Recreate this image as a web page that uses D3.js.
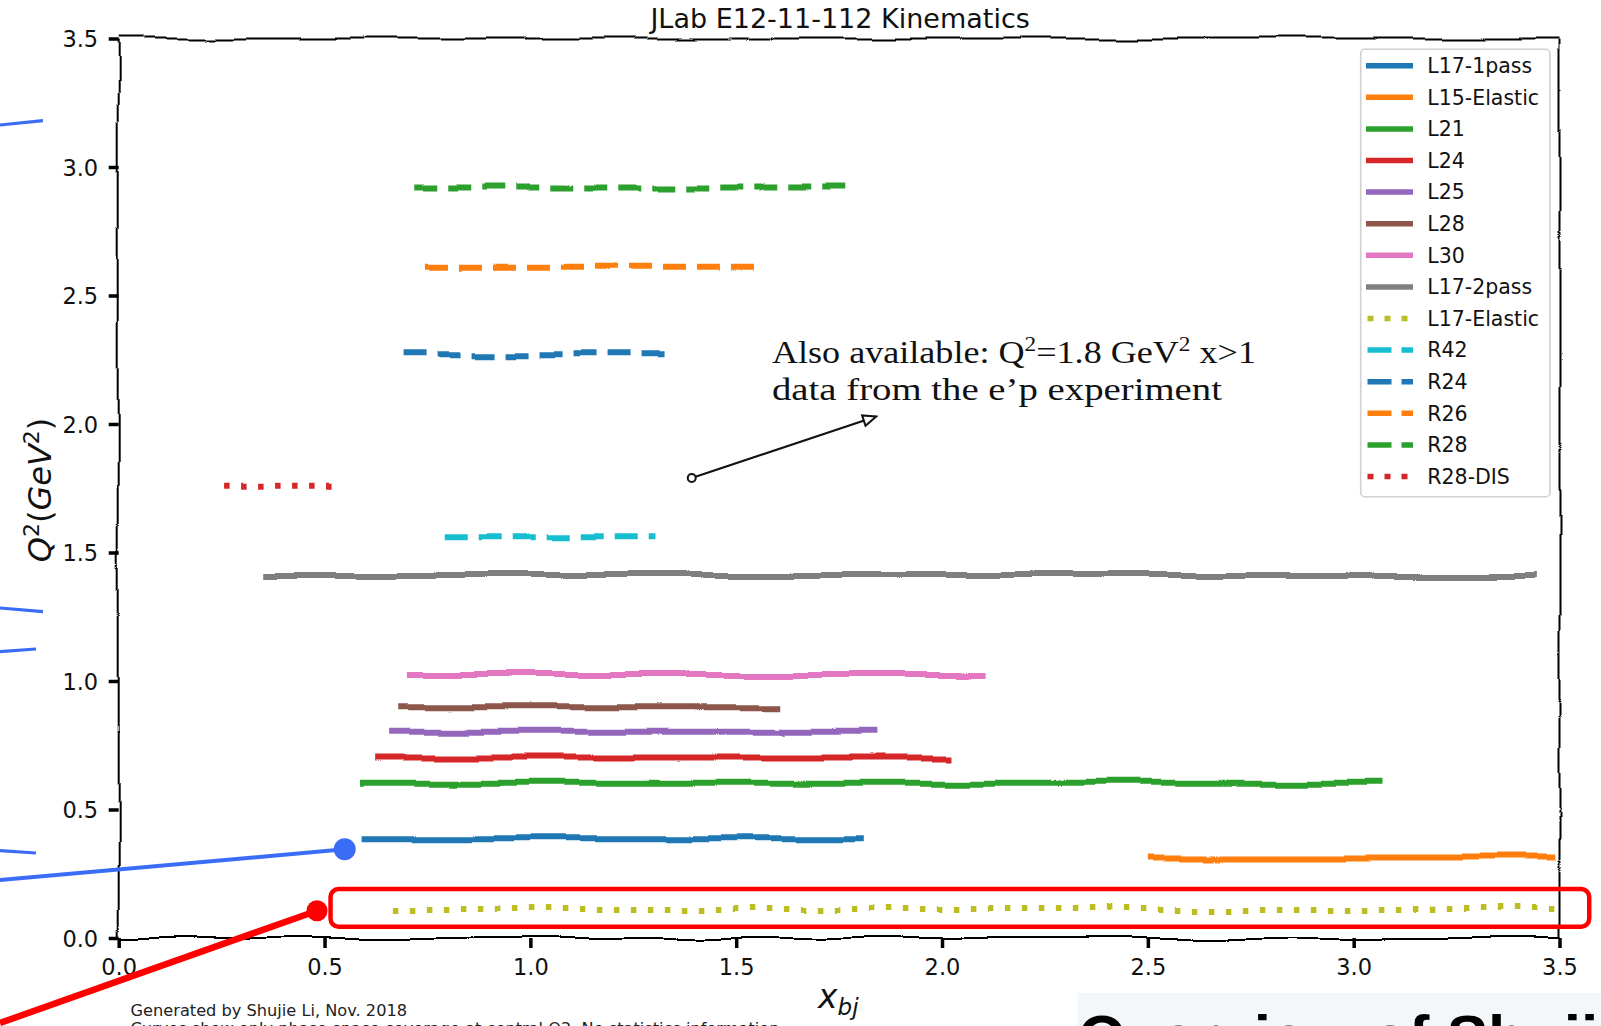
<!DOCTYPE html>
<html><head><meta charset="utf-8">
<script src="https://cdn.jsdelivr.net/npm/d3@7"></script>
<style>html,body{margin:0;padding:0;background:#fff;overflow:hidden}</style>
</head><body><svg id="c" width="1601" height="1026"></svg>
<script>
// ---------------- data ----------------
const seriesNames = ["L17-1pass","L15-Elastic","L21","L24","L25","L28","L30","L17-2pass","L17-Elastic","R42","R24","R26","R28","R28-DIS"];
const xStart   = [0.590, 2.500, 0.586, 0.623, 0.657, 0.679, 0.700, 0.351, 0.666, 0.792, 0.692, 0.744, 0.718, 0.256];
const xEnd     = [1.810, 3.490, 3.070, 2.023, 1.843, 1.607, 2.106, 3.445, 3.490, 1.304, 1.337, 1.548, 1.772, 0.520];
const q2Values = [0.388, 0.313, 0.604, 0.702, 0.803, 0.898, 1.023, 1.412, 0.113, 1.559, 2.271, 2.612, 2.920, 1.756];
const seriesColors = ["#1f77b4","#ff7f0e","#2ca02c","#d62728","#9467bd","#8c564b","#e377c2","#7f7f7f","#bcbd22","#17becf","#1f77b4","#ff7f0e","#2ca02c","#d62728"];
const seriesStyles = ["solid","solid","solid","solid","solid","solid","solid","solid","dotted","dashed","dashed","dashed","dashed","dotted"];
const xTicks = [0, 0.5, 1, 1.5, 2, 2.5, 3, 3.5];
const yTicks = [0, 0.5, 1, 1.5, 2, 2.5, 3, 3.5];
const xTickLabels = ["0.0","0.5","1.0","1.5","2.0","2.5","3.0","3.5"];
const yTickLabels = ["0.0","0.5","1.0","1.5","2.0","2.5","3.0","3.5"];
const titleText = "JLab E12-11-112 Kinematics";
const footerLines = ["Generated by Shujie Li, Nov. 2018","Curves show only phase space coverage at central Q2. No statistics information."];
// annotation (data units)
const noteArrowFrom = [1.392, 1.790];
const noteArrowTo   = [1.840, 2.029];
const noteTextAt    = [1.587, 2.237, 2.093];
// slide overlay marks (data units)
const blueDot = [0.549, 0.345], blueFrom = [-0.2884, 0.2257];
const redDot  = [0.4818, 0.1062], redFrom = [-0.2884, -0.3307];
const redBox  = [0.5146, 3.5722, 0.0440, 0.1907];
const blueStubs = [[-0.2884,3.1634,-0.1839,3.1802],[-0.2884,1.2840,-0.1839,1.2696],[-0.2884,1.1140,-0.2009,1.1245],[-0.2884,0.3397,-0.2009,0.3307]];

// ---------------- drawing ----------------
const W = 1601, H = 1026;
const svg = d3.select("#c");
const FONT = "'DejaVu Sans', Verdana, sans-serif";
const x = d3.scaleLinear().domain([0, 3.5]).range([118.7, 1559.5]);
const y = d3.scaleLinear().domain([0, 3.5]).range([938, 38.5]);

// sketch filters
const defs = svg.append("defs");
function mkFilter(id, freq, scale, horiz, seed) {
  const f = defs.append("filter").attr("id", id).attr("filterUnits","userSpaceOnUse")
    .attr("x",0).attr("y",0).attr("width",W).attr("height",H)
    .attr("color-interpolation-filters","sRGB");
  f.append("feTurbulence").attr("type","fractalNoise").attr("baseFrequency",freq)
    .attr("numOctaves",1).attr("seed",seed).attr("result","n");
  f.append("feColorMatrix").attr("in","n").attr("type","matrix")
    .attr("values", horiz ? "0 0 0 0 0.5  0 1 0 0 0  0 0 0 0 0  0 0 0 0 1"
                          : "1 0 0 0 0  0 0 0 0 0.5  0 0 0 0 0  0 0 0 0 1")
    .attr("result","m");
  f.append("feDisplacementMap").attr("in","SourceGraphic").attr("in2","m")
    .attr("scale",scale).attr("xChannelSelector","R").attr("yChannelSelector","G");
}
mkFilter("wh", "0.012 0.004", 13, true, 4);
mkFilter("wv", "0.004 0.013", 11, false, 7);

// slide light region bottom right
svg.append("rect").attr("x", x(2.329)).attr("y", y(-0.214)).attr("width", W - x(2.329)).attr("height", H - y(-0.214)).attr("fill","#f3f7fa");

// spines
const spine = svg.append("g").attr("stroke","#000").attr("stroke-width",2).attr("fill","none");
spine.append("line").attr("x1",x(0)).attr("x2",x(3.5)).attr("y1",y(3.5)).attr("y2",y(3.5)).attr("filter","url(#wh)");
spine.append("line").attr("x1",x(0)).attr("x2",x(3.5)).attr("y1",y(0)).attr("y2",y(0)).attr("filter","url(#wh)");
spine.append("line").attr("x1",x(0)).attr("x2",x(0)).attr("y1",y(3.5)).attr("y2",y(0)).attr("filter","url(#wv)");
spine.append("line").attr("x1",x(3.5)).attr("x2",x(3.5)).attr("y1",y(3.5)).attr("y2",y(0)).attr("filter","url(#wv)");

// axes
const gx = svg.append("g").attr("transform",`translate(0,${y(0)})`)
  .call(d3.axisBottom(x).tickValues(xTicks).tickFormat((d,i)=>xTickLabels[i]).tickSizeInner(10).tickSizeOuter(0));
gx.select(".domain").remove();
gx.selectAll(".tick line").attr("stroke","#000").attr("stroke-width",3.5);
gx.selectAll(".tick text").attr("y",37).attr("dy",null).attr("fill","#111")
  .style("font-family",FONT).style("font-size","22.5px");
const gy = svg.append("g").attr("transform",`translate(${x(0)},0)`)
  .call(d3.axisLeft(y).tickValues(yTicks).tickFormat((d,i)=>yTickLabels[i]).tickSizeInner(10).tickSizeOuter(0));
gy.select(".domain").remove();
gy.selectAll(".tick line").attr("stroke","#000").attr("stroke-width",3.5);
gy.selectAll(".tick text").attr("x",-20.5).attr("dy","0.365em").attr("fill","#111")
  .style("font-family",FONT).style("font-size","22.5px");

// series
const dashFor = s => s === "dashed" ? "23 11" : (s === "dotted" ? "5.5 11.5" : null);
const line = d3.line().x(d => x(d[0])).y(d => y(d[1]));
const series = seriesNames.map((n,i) => ({name:n, pts:[[xStart[i], q2Values[i]],[xEnd[i], q2Values[i]]], color:seriesColors[i], style:seriesStyles[i]}));
svg.append("g").selectAll("path").data(series).join("path")
  .attr("d", d => line(d.pts)).attr("fill","none")
  .attr("stroke", d => d.color).attr("stroke-width", 6)
  .attr("stroke-dasharray", d => dashFor(d.style)).attr("stroke-linecap","butt")
  .attr("filter","url(#wh)");

// title
svg.append("text").attr("x", (x(0)+x(3.5))/2 + 1).attr("y", 28).attr("text-anchor","middle")
  .style("font-family",FONT).style("font-size","27px").attr("fill","#111").text(titleText);

// y label
const yl = svg.append("text").attr("transform","translate(51,490) rotate(-90)").attr("text-anchor","middle")
  .style("font-family",FONT).style("font-size","32px").attr("fill","#111");
yl.append("tspan").style("font-style","italic").text("Q");
yl.append("tspan").attr("dy",-12).style("font-size","22px").text("2");
yl.append("tspan").attr("dy",12).text("(");
yl.append("tspan").style("font-style","italic").text("GeV");
yl.append("tspan").attr("dy",-12).style("font-size","22px").text("2");
yl.append("tspan").attr("dy",12).text(")");

// x label
const xl = svg.append("text").attr("x", 818).attr("y", 1008)
  .style("font-family",FONT).style("font-size","33px").attr("fill","#111");
xl.append("tspan").style("font-style","italic").text("x");
xl.append("tspan").attr("dy",7).style("font-style","italic").style("font-size","23px").text("bj");

// legend
const lg = svg.append("g");
const lgX = 1360.7, lgY = 49.3, lgW = 189.3, lgH = 447.4, rowH = 31.6, row0 = 65.7;
lg.append("rect").attr("x",lgX).attr("y",lgY).attr("width",lgW).attr("height",lgH).attr("rx",4)
  .attr("fill","#fff").attr("fill-opacity",0.85).attr("stroke","#d0d0d0").attr("stroke-width",1.6);
const items = lg.selectAll("g.it").data(series).join("g").attr("class","it")
  .attr("transform",(d,i)=>`translate(0,${row0 + i*rowH})`);
items.append("line").attr("x1",1366).attr("x2",1413).attr("y1",0).attr("y2",0)
  .attr("stroke",d=>d.color).attr("stroke-width",5.5)
  .attr("stroke-dasharray", d => d.style === "dashed" ? "24 10" : (d.style === "dotted" ? "6 11" : null))
  .attr("stroke-dashoffset", d => d.style === "solid" ? 0 : -1.5);
items.append("text").attr("x",1427.3).attr("y",0).attr("dy","0.36em")
  .style("font-family",FONT).style("font-size","20.5px").attr("fill","#111").text(d=>d.name);

// annotation arrow + text
svg.append("line").attr("x1",x(noteArrowFrom[0])).attr("y1",y(noteArrowFrom[1]))
  .attr("x2",x(noteArrowTo[0])).attr("y2",y(noteArrowTo[1])).attr("stroke","#111").attr("stroke-width",2.2);
{
  const x2 = x(noteArrowTo[0]), y2 = y(noteArrowTo[1]);
  const ang = Math.atan2(y2 - y(noteArrowFrom[1]), x2 - x(noteArrowFrom[0]));
  const L = 13, Wd = 5.5;
  const bx = x2 - L*Math.cos(ang), by = y2 - L*Math.sin(ang);
  const p = [[x2,y2],[bx + Wd*Math.sin(ang), by - Wd*Math.cos(ang)],[bx - Wd*Math.sin(ang), by + Wd*Math.cos(ang)]];
  svg.append("polygon").attr("points", p.map(q=>q.join(",")).join(" ")).attr("fill","#fff").attr("stroke","#111").attr("stroke-width",2);
}
svg.append("circle").attr("cx",x(noteArrowFrom[0])).attr("cy",y(noteArrowFrom[1])).attr("r",4)
  .attr("fill","#fff").attr("stroke","#111").attr("stroke-width",2);
const SERIF = "'Liberation Serif','Times New Roman',serif";
const t1 = svg.append("text").attr("x",x(noteTextAt[0])).attr("y",y(noteTextAt[1]))
  .style("font-family",SERIF).style("font-size","31px").attr("fill","#111")
  .attr("textLength",484).attr("lengthAdjust","spacingAndGlyphs");
t1.append("tspan").text("Also available: Q");
t1.append("tspan").attr("dy",-12).style("font-size","20px").text("2");
t1.append("tspan").attr("dy",12).text("=1.8 GeV");
t1.append("tspan").attr("dy",-12).style("font-size","20px").text("2");
t1.append("tspan").attr("dy",12).text(" x>1");
svg.append("text").attr("x",x(noteTextAt[0])).attr("y",y(noteTextAt[2]))
  .style("font-family",SERIF).style("font-size","31px").attr("fill","#111")
  .attr("textLength",450).attr("lengthAdjust","spacingAndGlyphs").text("data from the e\u2019p experiment");

// footer
svg.selectAll("text.ft").data(footerLines).join("text").attr("class","ft")
  .attr("x",130.5).attr("y",(d,i)=>1016 + i*17.5)
  .style("font-family",FONT).style("font-size","16.2px").attr("fill","#222").text(d=>d);

// bottom-right slide title fragment
svg.append("text").attr("x", 1078).attr("y", 1058)
  .style("font-family","'Liberation Sans',Arial,sans-serif").style("font-weight","bold").style("font-size","62px")
  .attr("fill","#000").text("Overview of Shujie");

// slide overlay: blue pointer & stubs, red pointer & box
const ov = svg.append("g");
blueStubs.forEach(s => ov.append("line").attr("x1",x(s[0])).attr("y1",y(s[1])).attr("x2",x(s[2])).attr("y2",y(s[3]))
  .attr("stroke","#3a6cf6").attr("stroke-width",3.2));
ov.append("line").attr("x1",x(blueFrom[0])).attr("y1",y(blueFrom[1])).attr("x2",x(blueDot[0])).attr("y2",y(blueDot[1]))
  .attr("stroke","#3a6cf6").attr("stroke-width",4);
ov.append("circle").attr("cx",x(blueDot[0])).attr("cy",y(blueDot[1])).attr("r",11).attr("fill","#3a6cf6");
ov.append("rect").attr("x",x(redBox[0])).attr("y",y(redBox[3])).attr("width",x(redBox[1])-x(redBox[0]))
  .attr("height",y(redBox[2])-y(redBox[3])).attr("rx",8).attr("fill","none").attr("stroke","#ff0000").attr("stroke-width",4.5);
ov.append("line").attr("x1",x(redFrom[0])).attr("y1",y(redFrom[1])).attr("x2",x(redDot[0])).attr("y2",y(redDot[1]))
  .attr("stroke","#ff0000").attr("stroke-width",6.5);
ov.append("circle").attr("cx",x(redDot[0])).attr("cy",y(redDot[1])).attr("r",10.5).attr("fill","#ff0000");
</script></body></html>
